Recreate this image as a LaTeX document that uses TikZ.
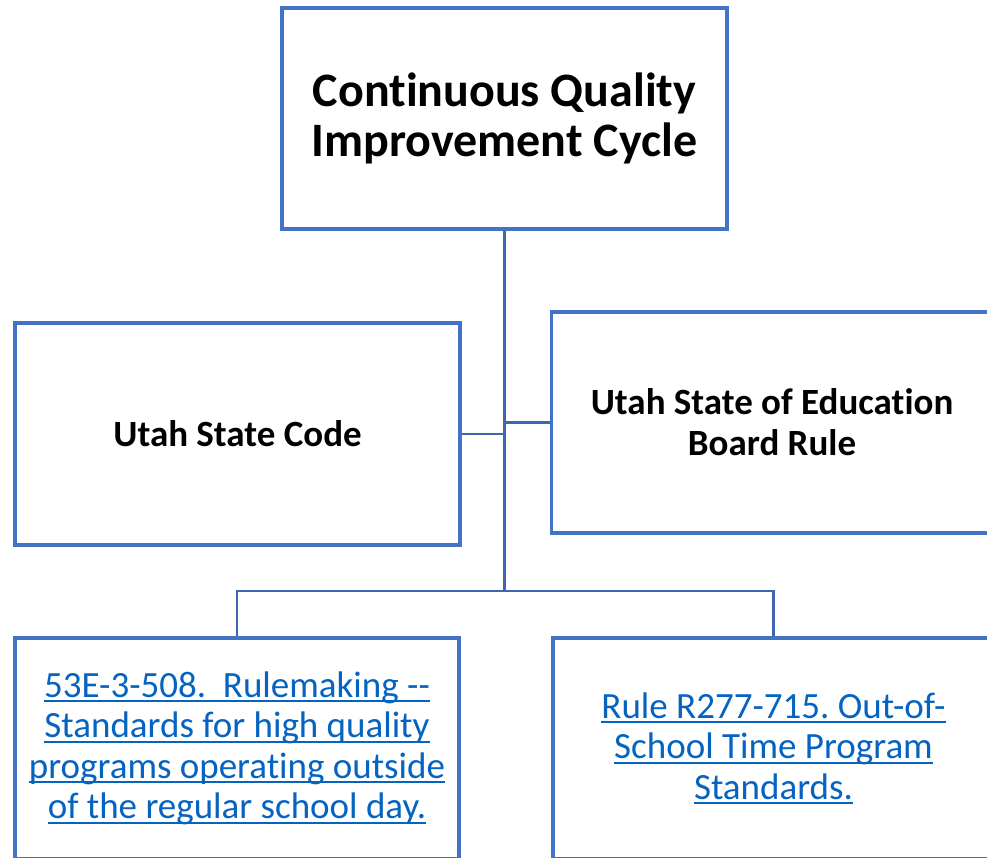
\documentclass[tikz,border=0pt]{standalone}
\usepackage{fontspec}
\setmainfont{Carlito}[Ligatures={NoCommon}]
\frenchspacing
\definecolor{boxblue}{HTML}{4472C4}
\definecolor{lineblue}{HTML}{3F66B0}
\definecolor{linkblue}{HTML}{0563C1}
\newcommand\lnkline[1]{\setbox0=\hbox{#1}\rlap{\rule[-5pt]{\wd0}{2pt}}\box0}
\tikzset{
  orgbox/.style={draw=boxblue, line width=3.5pt, fill=white, inner sep=0pt,
    minimum width=445pt, minimum height=221pt, align=center},
  headtext/.style={font=\bfseries\fontsize{48}{50}\selectfont},
  midtext/.style={font=\bfseries\fontsize{37}{41}\selectfont},
  linktext/.style={font=\fontsize{37}{40.5}\selectfont, text=linkblue},
  conn/.style={draw=lineblue, line width=2.6pt}
}
\begin{document}
\begin{tikzpicture}[x=1pt,y=-1pt]
\useasboundingbox (0,0) rectangle (987,858);
\node[orgbox, headtext] (top) at (504.5,118.5) {Continuous Quality\\Improvement Cycle};
\node[orgbox, midtext, minimum height=222pt] (lc) at (237.5,434) {Utah State Code};
\node[orgbox, midtext, minimum width=441pt] (rc) at (772,422.3) {Utah State of Education\\Board Rule};
\node[orgbox, linktext, minimum width=444pt] (bl) at (237,748.5)
  {\lnkline{53E-3-508.\ \ Rulemaking -{}-}\\\lnkline{Standards for high quality}\\\lnkline{programs operating outside}\\\lnkline{of the regular school day.}};
\node[orgbox, linktext, minimum width=441pt] (br) at (773.5,748.5)
  {\lnkline{Rule R277-715. Out-of-}\\\lnkline{School Time Program}\\\lnkline{Standards.}};
\coordinate (bar) at (top.south |- 0,591);
\draw[conn] (top.south) -- (bar);
\draw[conn] (lc.east) -- (lc.east -| top.south);
\draw[conn] (rc.west) -- (rc.west -| top.south);
\draw[conn] (bl.north) |- (bar) -| (br.north);
\end{tikzpicture}
\end{document}
